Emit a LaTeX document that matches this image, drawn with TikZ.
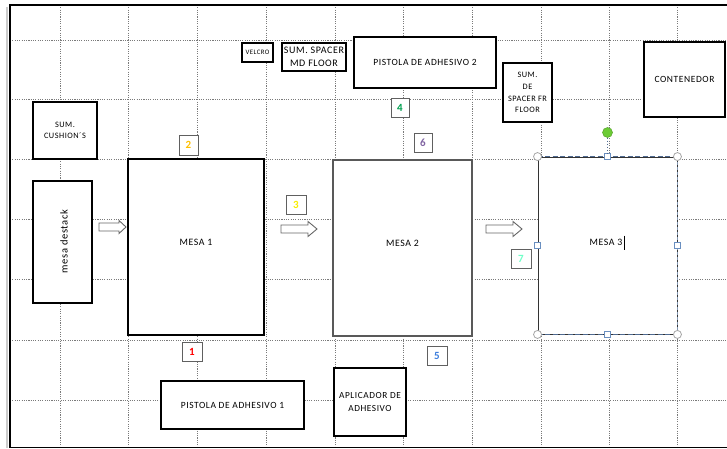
\documentclass[tikz,border=0pt]{standalone}
\usepackage{fontspec}
\setmainfont{Carlito}[LetterSpace=6]
\usetikzlibrary{shapes.geometric}
\definecolor{gridgray}{HTML}{7A7A7A}
\definecolor{numorange}{HTML}{FFC000}
\definecolor{numyellow}{HTML}{F8EE00}
\definecolor{numgreen}{HTML}{00A050}
\definecolor{numblue}{HTML}{3B7DDD}
\definecolor{numpurple}{HTML}{8064A2}
\definecolor{numaqua}{HTML}{70FFC8}
\definecolor{selblue}{HTML}{4F6A90}
\definecolor{handleblue}{HTML}{6A8FC0}
\definecolor{handlegreen}{HTML}{6CCB35}
\tikzset{
  gridline/.style={gridgray, line width=0.9pt, dash pattern=on 1.1pt off 1.2pt},
  framel/.style={black, line width=1.6pt},
  box/.style={draw=black, line width=1.5pt, fill=white, inner sep=0pt, align=center, font=\fontsize{9.5}{11}\selectfont},
  numbox/.style={draw=gray!75!black, line width=0.8pt, fill=white, inner sep=0pt, font=\fontsize{11}{12}\bfseries\selectfont},
  lbl/.style={inner sep=0pt, font=\fontsize{9.8}{11}\selectfont},
  blockarrowstyle/.style={draw=gray!80!black, line width=0.9pt, fill=white, line join=miter},
  cornerhandle/.style={circle, draw=gray!70, line width=0.8pt, fill=white, minimum size=8pt, inner sep=0pt},
  sidehandle/.style={rectangle, draw=handleblue, line width=0.8pt, fill=white, minimum size=5.5pt, inner sep=0pt},
}
\newcommand\blockarrow[5]{% x0, x1, yc, head length, head half-height
  \draw[blockarrowstyle] (#1,#3-4) -- (#2-#4,#3-4) -- (#2-#4,#3-#5) -- (#2,#3) -- (#2-#4,#3+#5) -- (#2-#4,#3+4) -- (#1,#3+4) -- cycle;}
\begin{document}
\begin{tikzpicture}[x=1pt,y=-1pt]
\useasboundingbox (0,0) rectangle (727,449);
% grid
\foreach \gx in {60,128,197,266,335,403,472,541,609,677}
  \draw[gridline] (\gx,5) -- (\gx,447);
\foreach \gy in {40,99,159,219,279,340,400}
  \draw[gridline] (10,\gy) -- (727,\gy);
% frame
\draw[gray!40, line width=1.2pt] (7,7) -- (7,448);
\draw[framel] (727,5) -- (10,5) -- (10,447.5) -- (727,447.5);
% top row
\node[box, minimum width=31pt, minimum height=19pt, font=\fontsize{6.8}{8}\selectfont] (velcro) at (257.5,52.5) {VELCRO};
\node[box, minimum width=64pt, minimum height=28pt, font=\fontsize{10}{12.5}\selectfont] (spacermd) at (314,57) {SUM. SPACER\\MD FLOOR};
\node[box, minimum width=142pt, minimum height=51pt] (pistola2) at (425,62.5) {PISTOLA DE ADHESIVO 2};
\node[numbox, minimum width=18pt, minimum height=19pt, text=numgreen] (n4) at (400,107.5) {4};
\node[numbox, minimum width=18pt, minimum height=19pt, text=numpurple] (n6) at (423,142.5) {6};
\node[box, minimum width=49pt, minimum height=59pt, font=\fontsize{8.3}{11.7}\selectfont] (spacerfr) at (527.5,92.5) {SUM.\\DE\\SPACER FR\\FLOOR};
\node[box, minimum width=81pt, minimum height=75pt] (contenedor) at (684.5,79.5) {CONTENEDOR};
\node[box, minimum width=64pt, minimum height=57pt, font=\fontsize{8.3}{11}\selectfont] (cushion) at (65,130.5) {SUM.\\CUSHION´S};
\node[numbox, minimum width=19pt, minimum height=20pt, text=numorange] (n2) at (188.5,145) {2};
% middle row
\node[box, minimum width=59pt, minimum height=122pt] (destack) at (62.5,242) {};
\node[lbl, rotate=90, font=\fontsize{10.5}{11}\selectfont] (destacktxt) at (64,241.5) {mesa destack};
\node[box, line width=1.8pt, minimum width=136pt, minimum height=176pt] (mesa1) at (196,247) {};
\node[lbl] (mesa1txt) at (196,242.5) {MESA 1};
\node[numbox, minimum width=20pt, minimum height=19pt, text=numyellow] (n3) at (296,204.5) {3};
\node[box, draw=gray!70!black, line width=1.1pt, minimum width=139pt, minimum height=176pt] (mesa2) at (402.5,248) {};
\node[lbl] (mesa2txt) at (402.5,243.5) {MESA 2};
\node[numbox, minimum width=20pt, minimum height=19pt, text=numaqua] (n7) at (521,258.5) {7};
% mesa 3 (selected)
\node[box, draw=black!80, line width=0.9pt, minimum width=139pt, minimum height=177pt] (mesa3) at (607.5,245.5) {};
\draw[selblue, line width=1.2pt, dash pattern=on 5pt off 2.5pt] (mesa3.north west) -- (mesa3.north east);
\draw[selblue, line width=1.2pt, dash pattern=on 5pt off 2.5pt] (mesa3.south west) -- (mesa3.south east);
\draw[selblue!70, line width=0.6pt, dash pattern=on 3pt off 2pt] (mesa3.north east) -- (mesa3.south east);
\node[lbl] (mesa3txt) at (606,242) {MESA 3};
\draw[black, line width=1pt] ([xshift=2pt]mesa3txt.east |- 0,235.5) -- ([xshift=2pt]mesa3txt.east |- 0,249.5);
\node[cornerhandle] (h1) at (mesa3.north west) {};
\node[cornerhandle] (h2) at (mesa3.north east) {};
\node[cornerhandle] (h3) at (mesa3.south west) {};
\node[cornerhandle] (h4) at (mesa3.south east) {};
\node[sidehandle] (h5) at (mesa3.north) {};
\node[sidehandle] (h6) at (mesa3.south) {};
\node[sidehandle] (h7) at (mesa3.west) {};
\node[sidehandle] (h8) at (mesa3.east) {};
\node[circle, fill=handlegreen, draw=handlegreen!80!black, line width=0.5pt, minimum size=10pt, inner sep=0pt] (rot) at (607.5,132.5) {};
\draw[selblue, line width=0.8pt, dash pattern=on 1.5pt off 1.5pt] (rot) -- (h5);
% block arrows
\blockarrow{99}{126}{227}{7}{6.5}
\blockarrow{281}{317}{229}{9}{7.5}
\blockarrow{486}{522}{229}{9}{7.5}
% bottom row
\node[numbox, minimum width=20pt, minimum height=19pt, text=red] (n1) at (192,351.5) {1};
\node[numbox, minimum width=20pt, minimum height=19pt, text=numblue] (n5) at (437,355.5) {5};
\node[box, minimum width=143pt, minimum height=48pt] (pistola1) at (232.5,405) {PISTOLA DE ADHESIVO 1};
\node[box, minimum width=72pt, minimum height=68pt, font=\fontsize{9.3}{13.5}\selectfont] (aplicador) at (370,402) {APLICADOR DE\\ADHESIVO};
\end{tikzpicture}
\end{document}
